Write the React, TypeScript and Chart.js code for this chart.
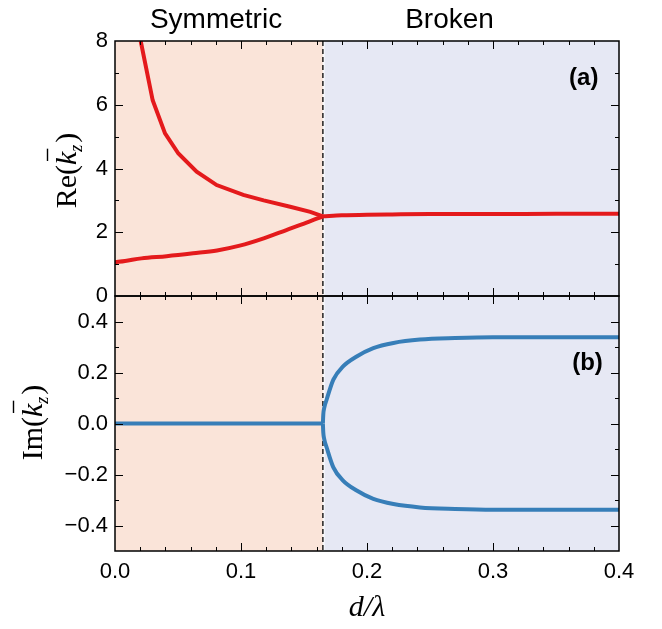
import React, { useEffect, useRef } from "react";
import { Chart, registerables } from "chart.js";

Chart.register(...registerables);

// ---------- data ----------
const TRANSITION = 0.165; // d/λ of the exceptional point

// Re(k): lower symmetric branch
const reLowerX = [0, 0.008, 0.021, 0.041, 0.062, 0.081, 0.099, 0.118, 0.136, 0.152, 0.165];
const reLowerY = [1.06, 1.1, 1.18, 1.25, 1.34, 1.43, 1.58, 1.81, 2.07, 2.3, 2.5];

// Re(k): merged branch in the broken phase
const reMergedX = [0.165, 0.18, 0.2, 0.22, 0.25, 0.3, 0.35, 0.4];
const reMergedY = [2.5, 2.53, 2.55, 2.56, 2.57, 2.57, 2.58, 2.58];

// Re(k): upper symmetric branch
const reUpperX = [0.0204, 0.0251, 0.0299, 0.0397, 0.0503, 0.0648, 0.0807, 0.1018, 0.118, 0.139, 0.155, 0.165];
const reUpperY = [8.0, 7.08, 6.14, 5.1, 4.47, 3.9, 3.48, 3.17, 3.0, 2.8, 2.64, 2.5];

// Im(k): zero in the symmetric phase
const imZeroX = [0, 0.165];
const imZeroY = [0, 0];

// Im(k): the two broken branches
const imUpperX = [0.165, 0.1653, 0.166, 0.168, 0.1733, 0.181, 0.1918, 0.205, 0.221, 0.242, 0.27, 0.3, 0.35, 0.4];
const imUpperY = [0, 0.035, 0.06, 0.094, 0.172, 0.224, 0.263, 0.296, 0.316, 0.329, 0.335, 0.338, 0.338, 0.338];
const imLowerX = [0.165, 0.1653, 0.166, 0.168, 0.1733, 0.181, 0.1918, 0.205, 0.221, 0.242, 0.27, 0.3, 0.35, 0.4];
const imLowerY = [0, -0.035, -0.06, -0.094, -0.172, -0.224, -0.263, -0.296, -0.316, -0.329, -0.335, -0.338, -0.338, -0.338];

// ticks
const xTicks = [0, 0.1, 0.2, 0.3, 0.4];
const reTicks = [0, 2, 4, 6, 8];
const imTicks = [-0.4, -0.2, 0, 0.2, 0.4];

const regionLabels = ["Symmetric", "Broken"];
const panelLabels = ["(a)", "(b)"];

// ---------- style ----------
const RED = "#E41A1C";
const BLUE = "#377EB8";
const PEACH = "#FAE4D9";
const LAVENDER = "#E6E8F4";
const SANS = "'Liberation Sans', Arial, sans-serif";
const SERIF = "'Liberation Serif', 'Times New Roman', serif";

const pts = (xs: number[], ys: number[]) => xs.map((x, i) => ({ x, y: ys[i] }));
const fmtMinus = (s: string) => s.replace("-", "\u2212");

function drawKTitle(ctx: CanvasRenderingContext2D, prefix: string, baseX: number, cy: number) {
  const fs = 30;
  const fR = `${fs}px ${SERIF}`;
  const fI = `italic ${fs}px ${SERIF}`;
  const fS = `italic ${Math.round(fs * 0.6)}px ${SERIF}`;
  ctx.save();
  ctx.translate(baseX, cy);
  ctx.rotate(-Math.PI / 2);
  ctx.font = fR;
  const w1 = ctx.measureText(prefix + "(").width;
  ctx.font = fI;
  const w2 = ctx.measureText("k").width;
  ctx.font = fS;
  const w3 = ctx.measureText("z").width;
  ctx.font = fR;
  const w4 = ctx.measureText(")").width;
  const total = w1 + w2 + w3 + w4 + 2;
  let x = -total / 2;
  ctx.fillStyle = "#000";
  ctx.strokeStyle = "#000";
  ctx.textAlign = "left";
  ctx.textBaseline = "alphabetic";
  ctx.font = fR;
  ctx.fillText(prefix + "(", x, 0);
  x += w1;
  ctx.font = fI;
  ctx.fillText("k", x, 0);
  ctx.lineWidth = 1.4;
  ctx.beginPath();
  ctx.moveTo(x + 4, -fs * 0.95);
  ctx.lineTo(x + w2 + 3, -fs * 0.95);
  ctx.stroke();
  x += w2;
  ctx.font = fS;
  ctx.fillText("z", x, fs * 0.2);
  x += w3 + 2;
  ctx.font = fR;
  ctx.fillText(")", x, 0);
  ctx.restore();
}

const panelPlugin = {
  id: "panelPlugin",
  beforeDatasetsDraw(chart: any) {
    const { ctx, chartArea, scales } = chart;
    const xs = scales.x.getPixelForValue(TRANSITION);
    ctx.save();
    ctx.fillStyle = PEACH;
    ctx.fillRect(chartArea.left, chartArea.top, xs - chartArea.left, chartArea.bottom - chartArea.top);
    ctx.fillStyle = LAVENDER;
    ctx.fillRect(xs, chartArea.top, chartArea.right - xs, chartArea.bottom - chartArea.top);
    // dashed separator (white underlay + black dashes)
    ctx.strokeStyle = "#fff";
    ctx.lineWidth = 1.3;
    ctx.beginPath();
    ctx.moveTo(xs + 1, chartArea.top);
    ctx.lineTo(xs + 1, chartArea.bottom);
    ctx.stroke();
    ctx.strokeStyle = "#000";
    ctx.setLineDash([5, 3]);
    ctx.beginPath();
    ctx.moveTo(xs, chartArea.top);
    ctx.lineTo(xs, chartArea.bottom);
    ctx.stroke();
    ctx.restore();
  },
  afterDatasetsDraw(chart: any) {
    const { ctx, chartArea, scales } = chart;
    const xS = scales.x;
    const yRe = scales.yRe;
    const yIm = scales.yIm;
    const L = chartArea.left;
    const R = chartArea.right;
    ctx.save();
    ctx.strokeStyle = "#000";
    ctx.lineWidth = 1;
    // ticks
    const panels = [
      { s: yRe, top: yRe.top, bottom: yRe.bottom, step: 1, majorEvery: 2, min: 0, max: 8 },
      { s: yIm, top: yIm.top, bottom: yIm.bottom, step: 0.1, majorEvery: 2, min: -0.5, max: 0.5 },
    ];
    ctx.beginPath();
    for (const p of panels) {
      for (let i = 1; i < 20; i++) {
        const v = i * 0.02;
        const px = Math.round(xS.getPixelForValue(v)) + 0.5;
        const len = i % 5 === 0 ? 8 : 4;
        ctx.moveTo(px, p.top);
        ctx.lineTo(px, p.top + len);
        ctx.moveTo(px, p.bottom);
        ctx.lineTo(px, p.bottom - len);
      }
      const n = Math.round((p.max - p.min) / p.step);
      for (let i = 1; i < n; i++) {
        const v = p.min + i * p.step;
        const py = Math.round(p.s.getPixelForValue(v)) + 0.5;
        const k = Math.round(v / p.step);
        const len = k % p.majorEvery === 0 ? 8 : 4;
        ctx.moveTo(L, py);
        ctx.lineTo(L + len, py);
        ctx.moveTo(R, py);
        ctx.lineTo(R - len, py);
      }
    }
    ctx.stroke();
    // frames
    ctx.lineWidth = 1.5;
    ctx.strokeRect(L, yRe.top, R - L, yRe.bottom - yRe.top);
    ctx.strokeRect(L, yIm.top, R - L, yIm.bottom - yIm.top);

    // region labels
    ctx.fillStyle = "#000";
    ctx.textAlign = "center";
    ctx.textBaseline = "alphabetic";
    ctx.font = `28px ${SANS}`;
    ctx.fillText(regionLabels[0], xS.getPixelForValue(0.0802), 28);
    ctx.fillText(regionLabels[1], xS.getPixelForValue(0.2655), 28);

    // panel labels
    ctx.font = `bold 24px ${SANS}`;
    ctx.textBaseline = "middle";
    ctx.fillText(panelLabels[0], xS.getPixelForValue(0.372), yRe.getPixelForValue(6.83));
    ctx.fillText(panelLabels[1], xS.getPixelForValue(0.375), yIm.getPixelForValue(0.235));

    // axis titles
    drawKTitle(ctx, "Re", 76, (yRe.top + yRe.bottom) / 2 + 2);
    drawKTitle(ctx, "Im", 42, (yIm.top + yIm.bottom) / 2 - 1);

    ctx.font = `italic 30px ${SERIF}`;
    ctx.textAlign = "center";
    ctx.textBaseline = "alphabetic";
    ctx.fillText("d/\u03BB", (L + R) / 2, 616);
    ctx.restore();
  },
};

export default function App() {
  const ref = useRef<HTMLCanvasElement | null>(null);
  useEffect(() => {
    if (!ref.current) return;
    const tickFont = { family: SANS, size: 22 };
    const line = (xs: number[], ys: number[], axis: string, color: string, smooth: boolean) => ({
      data: pts(xs, ys),
      yAxisID: axis,
      borderColor: color,
      borderWidth: 4,
      showLine: true,
      pointRadius: 0,
      tension: 0,
      cubicInterpolationMode: smooth ? "monotone" : "default",
    });
    const chart = new Chart(ref.current, {
      type: "scatter",
      data: {
        datasets: [
          line(reLowerX, reLowerY, "yRe", RED, true),
          line(reMergedX, reMergedY, "yRe", RED, true),
          line(reUpperX, reUpperY, "yRe", RED, false),
          line(imZeroX, imZeroY, "yIm", BLUE, false),
          line(imUpperX, imUpperY, "yIm", BLUE, true),
          line(imLowerX, imLowerY, "yIm", BLUE, true),
        ],
      },
      options: {
        animation: false,
        responsive: false,
        devicePixelRatio: 1,
        layout: { padding: { left: 0, top: 41, right: 43, bottom: 0 } },
        plugins: { legend: { display: false }, tooltip: { enabled: false } },
        scales: {
          x: {
            type: "linear",
            min: 0,
            max: 0.4,
            afterBuildTicks: (s: any) => { s.ticks = xTicks.map((v) => ({ value: v })); },
            afterFit: (s: any) => { s.height = 78; },
            grid: { display: false, drawTicks: false },
            border: { display: false },
            ticks: { color: "#000", font: tickFont, padding: 8, maxRotation: 0, callback: (v: any) => Number(v).toFixed(1) },
          },
          yIm: {
            type: "linear",
            position: "left",
            stack: "panels",
            stackWeight: 1,
            min: -0.5,
            max: 0.5,
            afterBuildTicks: (s: any) => { s.ticks = imTicks.map((v) => ({ value: v })); },
            afterFit: (s: any) => { s.width = 115; },
            grid: { display: false, drawTicks: false },
            border: { display: false },
            ticks: { color: "#000", font: tickFont, padding: 7, callback: (v: any) => fmtMinus(Number(v).toFixed(1)) },
          },
          yRe: {
            type: "linear",
            position: "left",
            stack: "panels",
            stackWeight: 1,
            min: 0,
            max: 8,
            afterBuildTicks: (s: any) => { s.ticks = reTicks.map((v) => ({ value: v })); },
            afterFit: (s: any) => { s.width = 115; },
            grid: { display: false, drawTicks: false },
            border: { display: false },
            ticks: { color: "#000", font: tickFont, padding: 7, callback: (v: any) => String(v) },
          },
        },
      } as any,
      plugins: [panelPlugin],
    });
    return () => chart.destroy();
  }, []);
  return (
    <div style={{ position: "fixed", left: 0, top: 0, width: 662, height: 629, background: "#fff" }}>
      <canvas ref={ref} width={662} height={629} style={{ display: "block", width: 662, height: 629 }} />
    </div>
  );
}
